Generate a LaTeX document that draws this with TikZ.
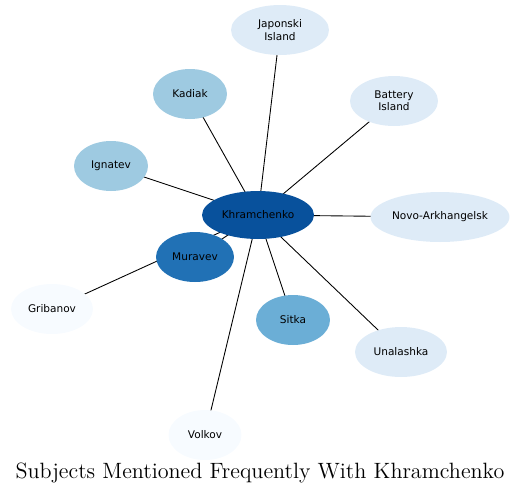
\documentclass[tikz,border=0pt]{standalone}
\usepackage{fontspec}
\newfontfamily\labelfont{DejaVu Sans}
\usetikzlibrary{shapes.geometric, backgrounds}
\definecolor{blueA}{HTML}{08519C}
\definecolor{blueB}{HTML}{2171B5}
\definecolor{blueC}{HTML}{6BAED6}
\definecolor{blueD}{HTML}{9ECAE1}
\definecolor{blueE}{HTML}{DEEBF7}
\definecolor{blueF}{HTML}{F7FBFF}
\tikzset{
  subj/.style={ellipse, inner sep=0pt, minimum height=1.0cm, align=center,
    font=\labelfont\fontsize{6}{7}\selectfont},
  link/.style={draw=black, line width=0.5pt}
}
\begin{document}
\begin{tikzpicture}[x=0.02cm, y=-0.02cm]
  \useasboundingbox (0,0) rectangle (521,495);
  % 中心
  \node[subj, fill=blueA, minimum width=2.24cm, minimum height=0.96cm] (khr) at (258,215) {Khramchenko};
  % 周りの項目
  \node[subj, fill=blueE, minimum width=1.96cm] (jap) at (280,30) {Japonski\\Island};
  \node[subj, fill=blueE, minimum width=1.76cm] (bat) at (394,101) {Battery\\Island};
  \node[subj, fill=blueD, minimum width=1.48cm] (kad) at (190,94) {Kadiak};
  \node[subj, fill=blueD, minimum width=1.48cm] (ign) at (111,166) {Ignatev};
  \node[subj, fill=blueE, minimum width=2.78cm] (novo) at (440,217) {Novo-Arkhangelsk};
  \node[subj, fill=blueB, minimum width=1.56cm] (mur) at (195,257) {Muravev};
  \node[subj, fill=blueF, minimum width=1.64cm] (gri) at (52,309) {Gribanov};
  \node[subj, fill=blueC, minimum width=1.48cm] (sit) at (293,320) {Sitka};
  \node[subj, fill=blueE, minimum width=1.84cm] (una) at (401,352) {Unalashka};
  \node[subj, fill=blueF, minimum width=1.46cm] (vol) at (205,435) {Volkov};
  % 線
  \begin{scope}[on background layer]
    \foreach \n in {jap, bat, kad, ign, novo, mur, gri, sit, una, vol}
      \draw[link] (khr.center) -- (\n.center);
  \end{scope}
  % 題
  \node[font=\fontsize{12.6}{15}\selectfont] (title) at (260,473) {Subjects Mentioned Frequently With Khramchenko};
\end{tikzpicture}
\end{document}
